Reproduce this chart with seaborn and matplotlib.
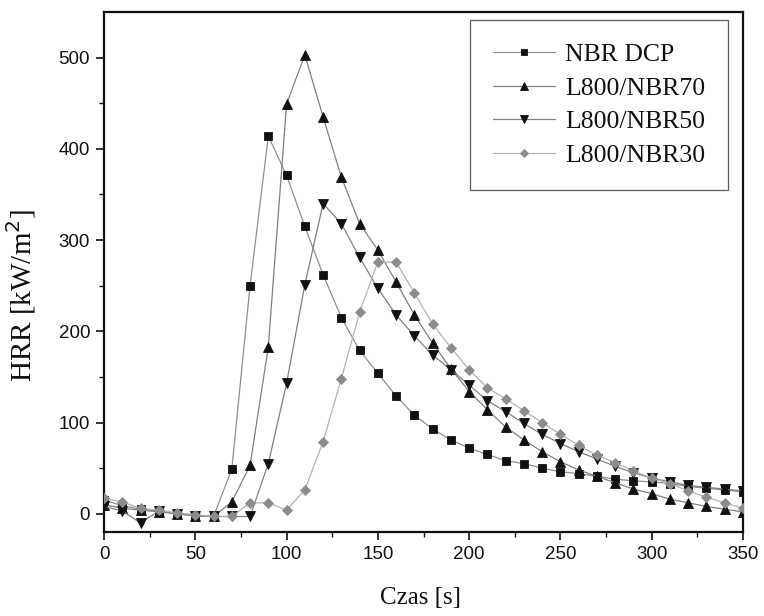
import numpy as np
import pandas as pd
import matplotlib
matplotlib.use("Agg")
import matplotlib.pyplot as plt
import seaborn as sns

# Heat release rate vs time, sampled every 10 s
czas = list(range(0, 360, 10))

nbr_dcp = [15, 9, 5, 3, 0, -2, -3, 49, 250, 414, 371, 315, 262, 215, 179, 154,
           129, 108, 93, 81, 72, 65, 58, 55, 50, 46, 44, 41, 38, 36, 35, 33,
           30, 28, 26, 24]
l800_nbr70 = [10, 6, 4, 2, 0, -2, -3, 13, 53, 183, 449, 503, 435, 369, 318, 289,
              254, 218, 187, 159, 134, 114, 95, 81, 68, 57, 48, 41, 34, 27, 22, 16,
              12, 8, 5, 2]
l800_nbr50 = [8, 3, -10, 3, 0, -2, -3, -3, -3, 55, 143, 251, 340, 318, 281, 247,
              218, 195, 174, 158, 141, 124, 112, 99, 87, 77, 68, 60, 52, 45, 39, 35,
              31, 29, 27, 25]
l800_nbr30 = [17, 13, 6, 4, 1, -1, -3, -3, 12, 12, 4, 26, 79, 148, 221, 276,
              276, 242, 208, 182, 158, 138, 126, 113, 100, 87, 75, 64, 56, 47, 39, 33,
              25, 18, 12, 6]

series_names = ["NBR DCP", "L800/NBR70", "L800/NBR50", "L800/NBR30"]
series_values = [nbr_dcp, l800_nbr70, l800_nbr50, l800_nbr30]

x_ticks = [0, 50, 100, 150, 200, 250, 300, 350]
y_ticks = [0, 100, 200, 300, 400, 500]

styles = {
    "NBR DCP":    dict(marker="s", mfc="#111111", line="#8f8f8f", ms=6.0),
    "L800/NBR70": dict(marker="^", mfc="#111111", line="#808080", ms=7.0),
    "L800/NBR50": dict(marker="v", mfc="#111111", line="#808080", ms=7.0),
    "L800/NBR30": dict(marker="D", mfc="#8c8c8c", line="#b3b3b3", ms=5.5),
}

serif = ["Liberation Serif", "DejaVu Serif"]

sns.set_theme(style="white")
plt.rcParams["font.family"] = ["Liberation Sans", "DejaVu Sans"]

fig = plt.figure(figsize=(7.64, 6.16), dpi=100)
ax = fig.add_axes([104 / 764, 1 - 532 / 616, 639 / 764, 520 / 616])

for name, vals in zip(series_names, series_values):
    st = styles[name]
    df = pd.DataFrame({"Czas": czas, "HRR": vals})
    sns.lineplot(data=df, x="Czas", y="HRR", ax=ax, color=st["line"],
                 linewidth=0.9, marker=st["marker"], markersize=st["ms"],
                 markerfacecolor=st["mfc"], markeredgecolor=st["mfc"],
                 markeredgewidth=0.6, label=name, zorder=3)

ax.set_xlim(0, 350)
ax.set_ylim(-20, 550)
ax.set_xticks(x_ticks)
ax.set_yticks(y_ticks)
ax.set_xticks(np.arange(25, 350, 50), minor=True)
ax.set_yticks(np.arange(50, 550, 100), minor=True)
ax.tick_params(which="major", direction="out", length=6, width=1.2, color="#111111",
               labelsize=13.5, labelcolor="#111111", bottom=True, left=True, pad=4)
ax.tick_params(which="minor", direction="out", length=3.5, width=1.0, color="#111111",
               bottom=True, left=True)

for sp in ax.spines.values():
    sp.set_visible(True)
    sp.set_color("#111111")
    sp.set_linewidth(1.6)

ax.set_xlabel("Czas [s]", family=serif, fontsize=18, color="#111111")
ax.set_ylabel("HRR [kW/m$^2$]", family=serif, fontsize=21, color="#111111")
ax.xaxis.set_label_coords(0.495, -0.105)
ax.yaxis.set_label_coords(-0.103, 0.455)

leg = ax.legend(loc="upper right", bbox_to_anchor=(0.977, 0.985), frameon=True,
                fancybox=False, edgecolor="#333333", handlelength=2.4,
                borderpad=0.9, labelspacing=0.42, handletextpad=0.4,
                markerscale=0.75, borderaxespad=0.0,
                prop={"family": serif, "size": 18.5})
leg.get_frame().set_linewidth(0.9)
for t in leg.get_texts():
    t.set_color("#111111")

fig.savefig("out.png", dpi=100, facecolor="white")
